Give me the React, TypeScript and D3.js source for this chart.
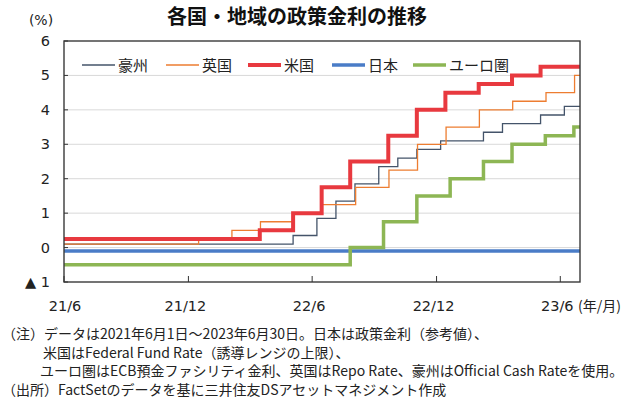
import React, { useEffect } from "react";
import * as d3 from "d3";

// policy rate change dates / levels (step after)
const auDates = ["2021-06-01", "2022-05-04", "2022-06-08", "2022-07-06", "2022-08-03", "2022-09-07", "2022-10-05", "2022-11-02", "2022-12-07", "2023-02-08", "2023-03-08", "2023-05-03", "2023-06-07"];
const auRates = [0.1, 0.35, 0.85, 1.35, 1.85, 2.35, 2.6, 2.85, 3.1, 3.35, 3.6, 3.85, 4.1];

const ukDates = ["2021-06-01", "2021-12-16", "2022-02-03", "2022-03-17", "2022-05-05", "2022-06-16", "2022-08-04", "2022-09-22", "2022-11-03", "2022-12-15", "2023-02-02", "2023-03-23", "2023-05-11", "2023-06-22"];
const ukRates = [0.1, 0.25, 0.5, 0.75, 1.0, 1.25, 1.75, 2.25, 3.0, 3.5, 4.0, 4.25, 4.5, 5.0];

const usDates = ["2021-06-01", "2022-03-16", "2022-05-04", "2022-06-15", "2022-07-27", "2022-09-21", "2022-11-02", "2022-12-14", "2023-02-01", "2023-03-22", "2023-05-03"];
const usRates = [0.25, 0.5, 1.0, 1.75, 2.5, 3.25, 4.0, 4.5, 4.75, 5.0, 5.25];

const jpDates = ["2021-06-01"];
const jpRates = [-0.1];

const euDates = ["2021-06-01", "2022-07-27", "2022-09-14", "2022-11-02", "2022-12-21", "2023-02-08", "2023-03-22", "2023-05-10", "2023-06-21"];
const euRates = [-0.5, 0.0, 0.75, 1.5, 2.0, 2.5, 3.0, 3.25, 3.5];

const startDate = "2021-06-01";
const endDate = "2023-06-30";

const xTickDates = ["2021-06-01", "2021-12-01", "2022-06-01", "2022-12-01", "2023-06-01"];
const xTickLabels = ["21/6", "21/12", "22/6", "22/12", "23/6"];
const yTicks = [-1, 0, 1, 2, 3, 4, 5, 6];

const series = [
  { name: "豪州", dates: auDates, rates: auRates, color: "#44546A", width: 1.3 },
  { name: "英国", dates: ukDates, rates: ukRates, color: "#ED7D31", width: 1.3 },
  { name: "米国", dates: usDates, rates: usRates, color: "#E8393F", width: 4 },
  { name: "日本", dates: jpDates, rates: jpRates, color: "#4A7CC7", width: 3.5 },
  { name: "ユーロ圏", dates: euDates, rates: euRates, color: "#8DB654", width: 3.5 },
];

const notes = [
  { x: 2, text: "（注）データは2021年6月1日～2023年6月30日。日本は政策金利（参考値）、" },
  { x: 43, text: "米国はFederal Fund Rate（誘導レンジの上限）、" },
  { x: 40, text: "ユーロ圏はECB預金ファシリティ金利、英国はRepo Rate、豪州はOfficial Cash Rateを使用。" },
  { x: 2, text: "（出所）FactSetのデータを基に三井住友DSアセットマネジメント作成" },
];

const font = "'Noto Sans CJK JP', 'Noto Sans', sans-serif";
const numFont = "'DejaVu Sans', sans-serif";
const parse = d3.timeParse("%Y-%m-%d");

export default function App() {
  useEffect(() => {
    document.body.style.margin = "0";
  }, []);

  const width = 640;
  const height = 399;
  const left = 64, right = 580, top = 41, bottom = 282;

  const x = d3.scaleTime().domain([parse(startDate)!, parse(endDate)!]).range([left, right]);
  const y = d3.scaleLinear().domain([-1, 6]).range([bottom, top]);

  const line = d3
    .line<[Date, number]>()
    .x((d) => x(d[0]))
    .y((d) => y(d[1]))
    .curve(d3.curveStepAfter);

  const legendX = [82, 166, 248, 332, 413];

  return (
    <svg width={width} height={height} style={{ display: "block", background: "#fff" }} fontFamily={font}>
      {/* title */}
      <text x={297} y={24} textAnchor="middle" fontSize={20} fontWeight="bold" fill="#111">
        各国・地域の政策金利の推移
      </text>
      <text x={41} y={25} textAnchor="middle" fontSize={14} fontFamily={numFont} fill="#222">(%)</text>

      {/* gridlines */}
      {yTicks.filter((t) => t > -1 && t < 6).map((t) => (
        <line key={t} x1={left} x2={right} y1={y(t)} y2={y(t)} stroke="#D9D9D9" strokeWidth={1} />
      ))}

      {/* series */}
      {series.map((s) => {
        const pts: [Date, number][] = s.dates.map((d, i) => [parse(d)!, s.rates[i]]);
        pts.push([parse(endDate)!, s.rates[s.rates.length - 1]]);
        return <path key={s.name} d={line(pts)!} fill="none" stroke={s.color} strokeWidth={s.width} />;
      })}

      {/* frame */}
      <rect x={left} y={top} width={right - left} height={bottom - top} fill="none" stroke="#3a3a3a" strokeWidth={1.4} />

      {/* y axis */}
      {yTicks.map((t) => (
        <g key={t}>
          <line x1={left} x2={left + 4} y1={y(t)} y2={y(t)} stroke="#333" />
          <text x={50} y={y(t) + 5} textAnchor="end" fontSize={14.5} fontFamily={numFont} fill="#222">
            {t < 0 ? `▲ ${-t}` : t}
          </text>
        </g>
      ))}

      {/* x axis */}
      {xTickDates.map((d, i) => (
        <g key={d}>
          <line x1={x(parse(d)!)} x2={x(parse(d)!)} y1={bottom} y2={bottom - 6} stroke="#333" />
          <text x={x(parse(d)!) + (i === 0 ? 1 : -3)} y={311} textAnchor="middle" fontSize={14.5} fontFamily={numFont} fill="#222">
            {xTickLabels[i]}
          </text>
        </g>
      ))}
      <text x={578} y={311} fontSize={14} fill="#222">(年/月)</text>

      {/* legend */}
      {series.map((s, i) => (
        <g key={s.name}>
          <line x1={legendX[i]} x2={legendX[i] + 33} y1={65} y2={65} stroke={s.color} strokeWidth={s.width} />
          <text x={legendX[i] + 36} y={70.5} fontSize={15} fill="#222">{s.name}</text>
        </g>
      ))}

      {/* notes */}
      {notes.map((n, i) => (
        <text key={i} x={n.x} y={339 + i * 18.5} fontSize={14} fill="#222">
          {n.text}
        </text>
      ))}
    </svg>
  );
}
